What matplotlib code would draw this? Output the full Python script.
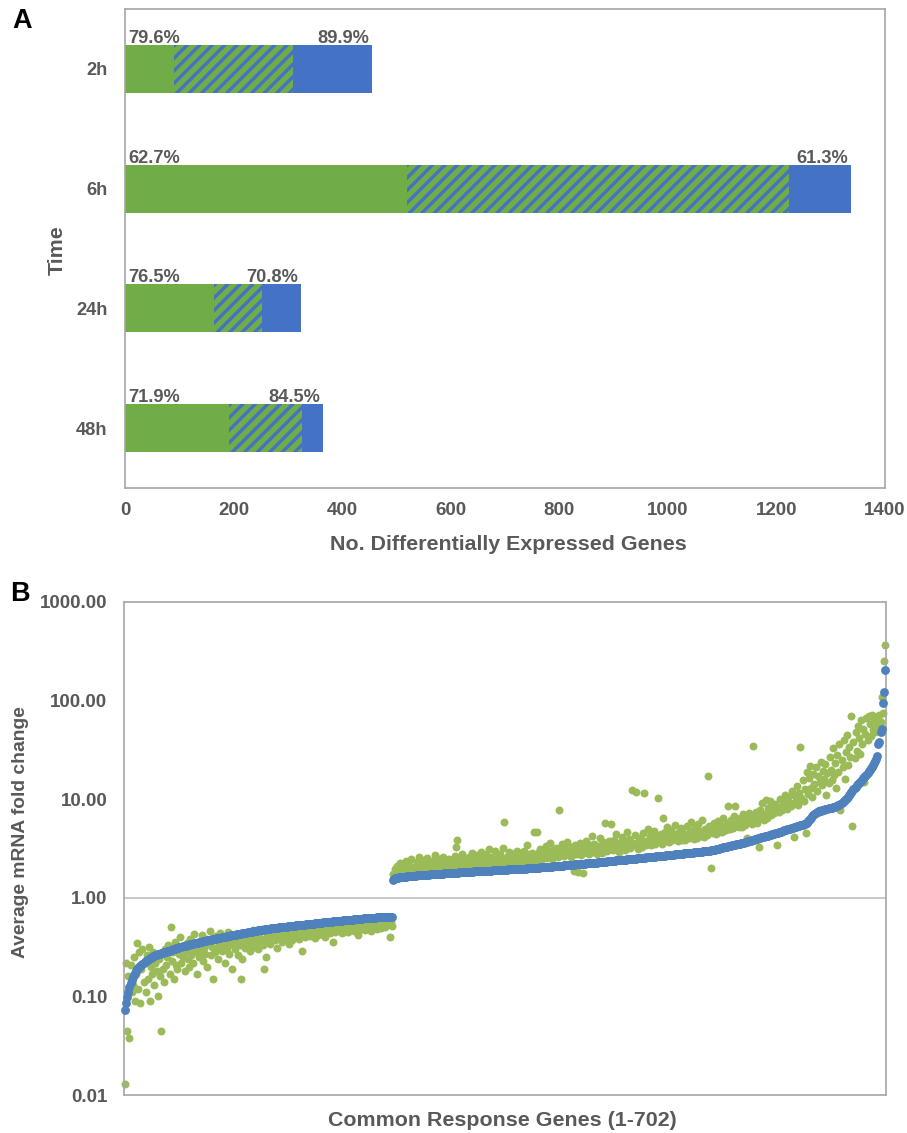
import numpy as np
import matplotlib
matplotlib.use('Agg')
import matplotlib.pyplot as plt
from matplotlib.ticker import NullLocator
from matplotlib.collections import LineCollection

# ---------------- Panel A data ----------------
times = ['2h', '6h', '24h', '48h']
green_only = [90, 519, 164, 192]
overlap = [219, 705, 88, 134]
blue_only = [146, 113, 72, 39]
left_pct = ['79.6%', '62.7%', '76.5%', '71.9%']
right_pct = ['89.9%', '61.3%', '70.8%', '84.5%']
x_ticks_a = [0, 200, 400, 600, 800, 1000, 1200, 1400]

# ---------------- Panel B data ----------------
blue_down = [
    0.073, 0.085, 0.098, 0.112, 0.125, 0.138, 0.148, 0.158, 0.166, 0.174,
    0.181, 0.188, 0.194, 0.200, 0.205, 0.210, 0.215, 0.220, 0.224, 0.228,
    0.232, 0.236, 0.240, 0.244, 0.248, 0.252, 0.255, 0.258, 0.261, 0.264,
    0.267, 0.270, 0.272, 0.274, 0.276, 0.278, 0.280, 0.282, 0.284, 0.286,
    0.290, 0.292, 0.295, 0.297, 0.300, 0.302, 0.305, 0.307, 0.310, 0.312,
    0.314, 0.317, 0.319, 0.321, 0.324, 0.326, 0.328, 0.330, 0.333, 0.335,
    0.337, 0.339, 0.341, 0.343, 0.345, 0.347, 0.350, 0.352, 0.354, 0.356,
    0.358, 0.360, 0.362, 0.364, 0.366, 0.368, 0.370, 0.372, 0.374, 0.376,
    0.378, 0.380, 0.382, 0.384, 0.386, 0.388, 0.390, 0.392, 0.394, 0.396,
    0.398, 0.400, 0.402, 0.404, 0.406, 0.408, 0.411, 0.413, 0.415, 0.417,
    0.420, 0.422, 0.424, 0.426, 0.428, 0.430, 0.432, 0.434, 0.436, 0.438,
    0.440, 0.442, 0.444, 0.446, 0.448, 0.450, 0.452, 0.454, 0.456, 0.458,
    0.460, 0.462, 0.464, 0.466, 0.468, 0.470, 0.472, 0.474, 0.476, 0.478,
    0.480, 0.482, 0.484, 0.486, 0.488, 0.490, 0.491, 0.493, 0.494, 0.496,
    0.497, 0.499, 0.500, 0.502, 0.503, 0.505, 0.506, 0.508, 0.509, 0.511,
    0.512, 0.514, 0.515, 0.517, 0.518, 0.520, 0.521, 0.523, 0.524, 0.526,
    0.527, 0.529, 0.530, 0.532, 0.533, 0.535, 0.536, 0.538, 0.539, 0.541,
    0.542, 0.544, 0.545, 0.547, 0.548, 0.550, 0.551, 0.553, 0.554, 0.556,
    0.557, 0.559, 0.560, 0.562, 0.563, 0.565, 0.566, 0.568, 0.569, 0.571,
    0.572, 0.574, 0.575, 0.577, 0.578, 0.580, 0.581, 0.583, 0.584, 0.586,
    0.587, 0.589, 0.590, 0.592, 0.593, 0.595, 0.596, 0.598, 0.599, 0.601,
    0.602, 0.604, 0.605, 0.607, 0.608, 0.610, 0.611, 0.613, 0.614, 0.616,
    0.617, 0.619, 0.620, 0.622, 0.623, 0.625, 0.626, 0.627, 0.628, 0.629,
    0.630, 0.631, 0.632, 0.633, 0.634, 0.635, 0.636, 0.637, 0.638, 0.639,
    0.640, 0.641, 0.642, 0.643, 0.644, 0.645, 0.646,
]

blue_up = [
    1.52, 1.55, 1.57, 1.58, 1.59, 1.60, 1.61, 1.62, 1.62, 1.63,
    1.63, 1.64, 1.64, 1.65, 1.65, 1.66, 1.66, 1.67, 1.67, 1.68,
    1.68, 1.68, 1.69, 1.69, 1.69, 1.70, 1.70, 1.70, 1.71, 1.71,
    1.71, 1.72, 1.72, 1.72, 1.73, 1.73, 1.73, 1.74, 1.74, 1.74,
    1.75, 1.75, 1.75, 1.76, 1.76, 1.76, 1.76, 1.77, 1.77, 1.77,
    1.78, 1.78, 1.78, 1.78, 1.79, 1.79, 1.79, 1.80, 1.80, 1.80,
    1.80, 1.81, 1.81, 1.81, 1.82, 1.82, 1.82, 1.82, 1.83, 1.83,
    1.83, 1.84, 1.84, 1.84, 1.84, 1.85, 1.85, 1.85, 1.86, 1.86,
    1.86, 1.86, 1.87, 1.87, 1.87, 1.88, 1.88, 1.88, 1.88, 1.89,
    1.89, 1.89, 1.90, 1.90, 1.90, 1.90, 1.91, 1.91, 1.91, 1.92,
    1.92, 1.92, 1.92, 1.93, 1.93, 1.93, 1.94, 1.94, 1.94, 1.94,
    1.95, 1.95, 1.95, 1.96, 1.96, 1.96, 1.96, 1.97, 1.97, 1.97,
    1.98, 1.98, 1.98, 1.98, 1.99, 1.99, 1.99, 2.00, 2.00, 2.00,
    2.01, 2.01, 2.01, 2.02, 2.02, 2.02, 2.03, 2.03, 2.03, 2.04,
    2.04, 2.04, 2.05, 2.05, 2.06, 2.06, 2.07, 2.07, 2.08, 2.08,
    2.09, 2.09, 2.10, 2.10, 2.11, 2.11, 2.12, 2.12, 2.13, 2.13,
    2.14, 2.14, 2.15, 2.15, 2.16, 2.16, 2.17, 2.17, 2.18, 2.18,
    2.19, 2.19, 2.20, 2.20, 2.21, 2.21, 2.22, 2.22, 2.23, 2.23,
    2.24, 2.24, 2.25, 2.25, 2.26, 2.26, 2.27, 2.28, 2.28, 2.29,
    2.29, 2.30, 2.30, 2.31, 2.32, 2.32, 2.33, 2.33, 2.34, 2.35,
    2.35, 2.36, 2.36, 2.37, 2.38, 2.38, 2.39, 2.39, 2.40, 2.41,
    2.41, 2.42, 2.42, 2.43, 2.44, 2.44, 2.45, 2.45, 2.46, 2.47,
    2.47, 2.48, 2.49, 2.49, 2.50, 2.51, 2.51, 2.52, 2.53, 2.53,
    2.54, 2.55, 2.55, 2.56, 2.57, 2.57, 2.58, 2.59, 2.59, 2.60,
    2.61, 2.61, 2.62, 2.63, 2.63, 2.64, 2.65, 2.66, 2.66, 2.67,
    2.68, 2.68, 2.69, 2.70, 2.71, 2.71, 2.72, 2.73, 2.74, 2.74,
    2.75, 2.76, 2.77, 2.77, 2.78, 2.79, 2.80, 2.80, 2.81, 2.82,
    2.83, 2.83, 2.84, 2.85, 2.86, 2.86, 2.87, 2.88, 2.89, 2.89,
    2.90, 2.91, 2.92, 2.92, 2.93, 2.94, 2.95, 2.96, 2.96, 2.97,
    2.98, 2.99, 3.00, 3.01, 3.02, 3.04, 3.06, 3.08, 3.10, 3.12,
    3.14, 3.16, 3.18, 3.20, 3.22, 3.24, 3.26, 3.28, 3.30, 3.33,
    3.35, 3.37, 3.39, 3.41, 3.43, 3.45, 3.47, 3.49, 3.51, 3.53,
    3.55, 3.57, 3.59, 3.61, 3.63, 3.65, 3.68, 3.71, 3.74, 3.77,
    3.80, 3.83, 3.86, 3.89, 3.92, 3.95, 3.98, 4.01, 4.04, 4.07,
    4.10, 4.13, 4.16, 4.19, 4.22, 4.25, 4.28, 4.31, 4.34, 4.37,
    4.40, 4.43, 4.46, 4.50, 4.54, 4.58, 4.62, 4.66, 4.70, 4.74,
    4.78, 4.82, 4.86, 4.90, 4.94, 4.98, 5.02, 5.06, 5.10, 5.14,
    5.18, 5.22, 5.26, 5.30, 5.34, 5.38, 5.42, 5.46, 5.50, 5.55,
    5.60, 5.70, 5.80, 5.95, 6.10, 6.30, 6.50, 6.70, 6.90, 7.10,
    7.25, 7.35, 7.45, 7.55, 7.62, 7.68, 7.74, 7.80, 7.85, 7.90,
    7.95, 8.00, 8.05, 8.10, 8.15, 8.20, 8.25, 8.30, 8.40, 8.50,
    8.60, 8.70, 8.80, 9.00, 9.20, 9.40, 9.60, 9.80, 10.0, 10.3,
    10.6, 11.0, 11.4, 11.8, 12.2, 12.6, 13.0, 13.4, 13.8, 14.2,
    14.6, 15.0, 15.4, 15.8, 16.3, 16.8, 17.3, 17.8, 18.4, 19.1,
    19.8, 20.6, 21.4, 22.3, 23.3, 24.5, 25.5,
    27.5, 36.0, 38.0, 48.0, 52.0, 95.0, 123.0, 206.0,
]

green_down = [
    0.013, 0.22, 0.045, 0.16, 0.038, 0.21, 0.11, 0.13, 0.25, 0.09,
    0.17, 0.35, 0.12, 0.28, 0.085, 0.19, 0.30, 0.14, 0.23, 0.11,
    0.26, 0.15, 0.32, 0.09, 0.20, 0.17, 0.28, 0.13, 0.22, 0.18,
    0.10, 0.24, 0.16, 0.045, 0.27, 0.19, 0.14, 0.30, 0.21, 0.25,
    0.33, 0.17, 0.50, 0.23, 0.28, 0.15, 0.36, 0.21, 0.19, 0.30,
    0.27, 0.40, 0.22, 0.25, 0.32, 0.18, 0.29, 0.35, 0.24, 0.20,
    0.38, 0.26, 0.31, 0.22, 0.43, 0.28, 0.17, 0.33, 0.25, 0.36,
    0.29, 0.42, 0.23, 0.31, 0.27, 0.38, 0.20, 0.34, 0.46, 0.26,
    0.32, 0.15, 0.37, 0.28, 0.41, 0.30, 0.24, 0.35, 0.44, 0.29,
    0.33, 0.39, 0.22, 0.36, 0.31, 0.45, 0.27, 0.40, 0.34, 0.19,
    0.37, 0.30, 0.43, 0.35, 0.26, 0.41, 0.33, 0.15, 0.24, 0.36,
    0.42, 0.31, 0.38, 0.45, 0.34, 0.29, 0.40, 0.36, 0.47, 0.32,
    0.39, 0.35, 0.44, 0.30, 0.41, 0.37, 0.48, 0.33, 0.19, 0.38,
    0.25, 0.40, 0.36, 0.46, 0.34, 0.42, 0.39, 0.49, 0.37, 0.44,
    0.31, 0.41, 0.47, 0.38, 0.43, 0.36, 0.50, 0.40, 0.45, 0.39,
    0.42, 0.34, 0.48, 0.41, 0.37, 0.46, 0.43, 0.52, 0.40, 0.45,
    0.38, 0.49, 0.44, 0.29, 0.42, 0.47, 0.40, 0.51, 0.45, 0.43,
    0.48, 0.41, 0.46, 0.53, 0.44, 0.39, 0.49, 0.45, 0.42, 0.50,
    0.47, 0.43, 0.52, 0.46, 0.40, 0.49, 0.45, 0.54, 0.48, 0.44,
    0.50, 0.47, 0.36, 0.52, 0.45, 0.49, 0.55, 0.46, 0.51, 0.48,
    0.44, 0.53, 0.49, 0.47, 0.56, 0.50, 0.45, 0.52, 0.48, 0.54,
    0.51, 0.46, 0.55, 0.49, 0.53, 0.42, 0.50, 0.57, 0.48, 0.52,
    0.55, 0.47, 0.51, 0.58, 0.49, 0.54, 0.52, 0.46, 0.56, 0.50,
    0.53, 0.57, 0.48, 0.55, 0.51, 0.59, 0.49, 0.54, 0.52, 0.56,
    0.50, 0.58, 0.53, 0.55, 0.40, 0.57, 0.52,
]

green_up = [
    1.75, 1.62, 1.95, 1.70, 2.10, 1.80, 1.68, 2.25, 1.85, 1.72,
    2.00, 1.78, 2.35, 1.90, 1.74, 2.15, 1.83, 2.50, 1.95, 1.76,
    2.05, 1.88, 2.30, 1.80, 2.60, 1.92, 2.12, 1.78, 2.20, 2.40,
    1.85, 2.02, 2.55, 1.90, 2.18, 1.82, 2.35, 2.08, 1.95, 2.70,
    2.10, 1.88, 2.25, 2.45, 1.93, 2.15, 2.60, 1.86, 2.05, 2.30,
    2.20, 1.98, 2.50, 2.12, 1.90, 2.35, 2.08, 2.65, 3.30, 3.90,
    2.15, 2.40, 1.95, 2.28, 2.75, 2.05, 2.20, 2.50, 1.92, 2.38,
    2.60, 2.10, 2.30, 2.85, 2.00, 2.45, 2.18, 2.70, 2.25, 1.95,
    2.40, 2.90, 2.15, 2.55, 2.32, 2.05, 2.75, 2.22, 2.48, 3.10,
    2.28, 2.60, 2.10, 2.42, 2.95, 2.20, 2.52, 2.35, 2.15, 2.80,
    2.45, 2.25, 3.20, 5.90, 2.38, 2.62, 2.18, 2.90, 2.50, 2.30,
    2.70, 2.42, 2.20, 2.85, 2.55, 3.00, 2.35, 2.65, 2.28, 2.78,
    2.48, 2.95, 2.38, 2.60, 3.40, 2.45, 2.75, 2.32, 2.88, 2.55,
    4.60, 2.68, 2.40, 4.70, 2.82, 2.52, 3.10, 2.62, 2.45, 2.90,
    2.72, 3.35, 2.55, 2.95, 2.65, 3.60, 2.78, 2.50, 3.05, 2.70,
    2.88, 3.20, 2.60, 7.80, 2.95, 2.75, 3.50, 2.85, 2.65, 3.15,
    2.90, 3.70, 2.78, 3.05, 2.60, 3.30, 2.95, 1.85, 3.45, 2.80,
    3.10, 1.82, 2.92, 3.60, 2.70, 1.80, 3.25, 2.98, 3.80, 2.85,
    3.15, 2.75, 3.40, 3.00, 4.20, 2.90, 3.55, 3.20, 2.80, 3.35,
    3.05, 4.00, 3.25, 2.88, 3.65, 3.10, 5.80, 3.40, 2.95, 3.75,
    3.20, 5.60, 3.50, 3.02, 3.90, 3.30, 4.40, 3.15, 3.60, 2.90,
    3.45, 4.10, 3.25, 3.80, 3.05, 3.55, 4.70, 3.35, 3.95, 3.20,
    3.70, 12.5, 3.40, 4.30, 11.8, 3.60, 3.10, 4.00, 3.50, 3.85,
    3.30, 4.50, 11.5, 3.75, 3.45, 5.00, 3.65, 4.20, 3.40, 3.95,
    3.60, 4.80, 3.50, 4.10, 3.85, 10.4, 3.70, 4.40, 3.55, 6.50,
    3.90, 4.60, 3.75, 5.20, 4.05, 3.65, 4.30, 4.90, 3.85, 4.15,
    5.50, 3.95, 4.45, 3.80, 4.70, 4.10, 5.10, 3.90, 4.55, 4.25,
    3.85, 5.30, 4.35, 4.00, 4.80, 5.90, 4.20, 4.60, 3.95, 5.20,
    4.40, 4.05, 5.60, 4.75, 4.25, 6.10, 4.50, 4.15, 5.00, 4.65,
    4.35, 17.0, 5.40, 4.80, 2.00, 4.55, 5.80, 4.95, 4.40, 5.25,
    6.00, 4.70, 5.50, 5.05, 4.60, 6.40, 5.15, 4.85, 5.70, 8.50,
    5.30, 4.95, 6.20, 5.60, 5.10, 6.80, 8.60, 5.40, 5.90, 5.20,
    6.50, 5.75, 5.25, 7.00, 6.10, 5.50, 6.60, 4.00, 5.85, 7.20,
    6.30, 5.60, 34.5, 6.90, 6.00, 7.50, 5.80, 6.40, 3.30, 7.80,
    6.70, 9.20, 6.20, 7.10, 9.80, 6.50, 8.20, 7.40, 9.50, 6.90,
    7.70, 8.60, 7.20, 9.00, 3.40, 8.00, 7.50, 10.0, 8.40, 7.80,
    9.60, 8.10, 11.0, 8.70, 7.90, 10.5, 9.20, 8.50, 12.0, 9.00,
    4.10, 10.8, 9.60, 13.5, 8.80, 11.5, 34.0, 10.2, 15.8, 9.50,
    12.8, 4.50, 19.0, 11.2, 16.5, 21.7, 13.0, 10.5, 18.0, 14.2,
    21.0, 12.0, 17.2, 7.80, 15.0, 24.0, 13.8, 19.5, 16.0, 22.5,
    11.0, 18.5, 14.5, 27.0, 20.0, 15.5, 33.0, 17.5, 23.5, 13.0,
    28.0, 19.0, 36.0, 7.80, 25.0, 21.0, 40.0, 16.0, 30.0, 45.0,
    22.0, 34.0, 27.0, 69.0, 5.40, 38.0, 26.0, 48.0, 31.0, 55.0,
    42.0, 29.0, 63.0, 36.0, 52.0, 15.0, 46.0, 66.0, 40.0, 70.0,
    58.0, 44.0, 72.0, 50.0, 62.0, 48.0, 68.0,
    55.0, 65.0, 72.0, 60.0, 110.0, 75.0, 250.0, 363.0,
]

y_ticks_b = [0.01, 0.1, 1, 10, 100, 1000]
y_ticklabels_b = ['0.01', '0.10', '1.00', '10.00', '100.00', '1000.00']

# ---------------- Figure ----------------
W, H, DPI = 907, 1133, 75
plt.rcParams['font.family'] = ['Liberation Sans', 'DejaVu Sans']
plt.rcParams['font.weight'] = 'bold'

TXT = '#595959'
SPINE = '#A6A6A6'
fig = plt.figure(figsize=(W / DPI, H / DPI), dpi=DPI)


def rect(l, r, t, b):
    return [l / W, 1 - b / H, (r - l) / W, (b - t) / H]


# ---- Panel A ----
axA = fig.add_axes(rect(125, 885, 9, 488))
axA.set_xlim(0, 1400)
axA.set_ylim(len(times) - 0.5, -0.5)
g_col, b_col = '#70AD47', '#4472C4'
ypos = np.arange(len(times))
g = np.array(green_only, dtype=float)
o = np.array(overlap, dtype=float)
bl = np.array(blue_only, dtype=float)
axA.barh(ypos, g, height=0.4, color=g_col, linewidth=0)
bars_o = axA.barh(ypos, o, left=g, height=0.4, color=g_col, linewidth=0)
axA.barh(ypos, bl, left=g + o, height=0.4, color=b_col, linewidth=0)

# diagonal blue stripes on the overlap segments, laid out in axes-fraction
# units so that they run at 45 degrees on screen
ax_w_px, ax_h_px = 760.0, 479.0
STRIPE_GAP = 12.5      # px between stripes, horizontally
STRIPE_LW = 3.4 * 72 / DPI
to_axes = axA.transLimits  # data -> axes fraction
for patch in bars_o:
    x0, y0 = patch.get_x(), patch.get_y()
    w, h = patch.get_width(), patch.get_height()
    (fx0, fy0), (fx1, fy1) = to_axes.transform([(x0, y0), (x0 + w, y0 + h)])
    pl, pr = min(fx0, fx1) * ax_w_px, max(fx0, fx1) * ax_w_px
    pb, pt = min(fy0, fy1) * ax_h_px, max(fy0, fy1) * ax_h_px
    ph = pt - pb
    segs = []
    c = pl - ph - STRIPE_GAP
    while c < pr + STRIPE_GAP:
        segs.append([((c) / ax_w_px, (pb - 1) / ax_h_px),
                     ((c + ph + 2) / ax_w_px, (pt + 1) / ax_h_px)])
        c += STRIPE_GAP
    lc = LineCollection(segs, colors=b_col, linewidths=STRIPE_LW,
                        transform=axA.transAxes, zorder=patch.get_zorder() + 0.05)
    axA.add_collection(lc, autolim=False)
    lc.set_clip_path(patch.get_path(), patch.get_transform())

totals = g + o + bl
for i in range(len(times)):
    axA.annotate(left_pct[i], xy=(0, ypos[i] - 0.2), xytext=(3, 2),
                 textcoords='offset pixels', ha='left', va='baseline',
                 fontsize=17.5, color=TXT, fontweight='bold')
    axA.annotate(right_pct[i], xy=(totals[i], ypos[i] - 0.2), xytext=(-3, 2),
                 textcoords='offset pixels', ha='right', va='baseline',
                 fontsize=17.5, color=TXT, fontweight='bold')
axA.set_xticks(x_ticks_a)
axA.set_xticklabels([str(v) for v in x_ticks_a])
axA.set_yticks(ypos)
axA.set_yticklabels(times)
axA.tick_params(axis='x', length=0, pad=13, labelsize=18, labelcolor=TXT)
axA.tick_params(axis='y', length=0, pad=17, labelsize=17.5, labelcolor=TXT)
for s in axA.spines.values():
    s.set_color(SPINE)
    s.set_linewidth(1.6)

# ---- Panel B ----
axB = fig.add_axes(rect(124, 886, 602, 1095))
gB, bB = '#9BBB59', '#4F81BD'
n_down_g = len(green_down)
xg = np.concatenate([np.arange(n_down_g), n_down_g + np.arange(len(green_up))])
n_down_b = len(blue_down)
xb = np.concatenate([np.arange(n_down_b), n_down_b + np.arange(len(blue_up))])
axB.scatter(xg, green_down + green_up, s=58, color=gB, linewidths=0,
            zorder=2, clip_on=False)
axB.scatter(xb, blue_down + blue_up, s=72, color=bB, linewidths=0,
            zorder=3, clip_on=False)
axB.axhline(1, color='#BFBFBF', lw=1.6, zorder=1)
axB.set_yscale('log')
axB.set_ylim(0.01, 1000)
axB.set_xlim(-1, 702)
axB.set_yticks(y_ticks_b)
axB.set_yticklabels(y_ticklabels_b)
axB.yaxis.set_minor_locator(NullLocator())
axB.set_xticks([])
axB.tick_params(axis='y', length=0, pad=16, labelsize=18, labelcolor=TXT)
for s in axB.spines.values():
    s.set_color(SPINE)
    s.set_linewidth(1.6)

# ---- Labels ----
fig.text(12 / W, 1 - 8 / H, 'A', ha='left', va='top', fontsize=26,
         fontweight='bold', color='black')
fig.text(10 / W, 1 - 581 / H, 'B', ha='left', va='top', fontsize=26,
         fontweight='bold', color='black')
fig.text(57 / W, 1 - 250 / H, 'Time', rotation=90, ha='center', va='center',
         fontsize=20.5, fontweight='bold', color=TXT)
fig.text(508 / W, 1 - 544 / H, 'No. Differentially Expressed Genes',
         ha='center', va='center', fontsize=20.5, fontweight='bold', color=TXT)
fig.text(21 / W, 1 - 832 / H, 'Average mRNA fold change', rotation=90,
         ha='center', va='center', fontsize=18.5, fontweight='bold', color=TXT)
fig.text(502 / W, 1 - 1121 / H, 'Common Response Genes (1-702)',
         ha='center', va='center', fontsize=20.5, fontweight='bold', color=TXT)

fig.savefig('out.png', dpi=DPI)
